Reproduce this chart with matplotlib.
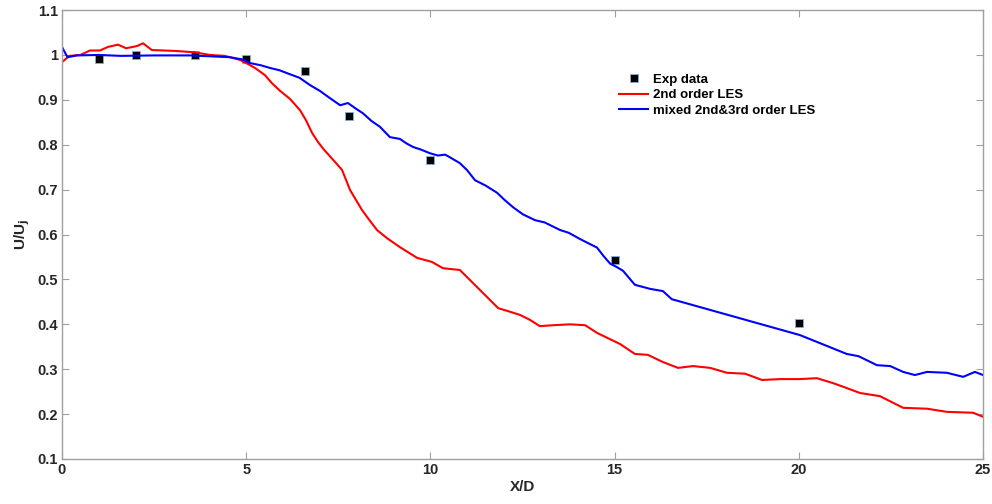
import numpy as np
import matplotlib
matplotlib.use("Agg")
import matplotlib.pyplot as plt

plt.rcParams['font.family'] = ['Liberation Sans', 'DejaVu Sans']
plt.rcParams['font.weight'] = 'bold'

# experimental centreline velocity
exp_x = [1.0, 2.0, 3.6, 5.0, 6.6, 7.8, 10.0, 15.0, 20.0]
exp_y = [0.99, 1.0, 1.0, 0.99, 0.964, 0.864, 0.767, 0.543, 0.403]

# 2nd order LES
les2_x = [0.0, 0.2, 0.5, 0.76, 1.03, 1.25, 1.52, 1.74, 2.04, 2.2, 2.44, 3.07, 3.6,
          4.02, 4.42, 4.83, 5.0, 5.24, 5.51, 5.7, 5.92, 6.19, 6.46, 6.62, 6.79,
          6.95, 7.1, 7.44, 7.6, 7.82, 8.14, 8.3, 8.55, 8.82, 9.17, 9.64, 10.04,
          10.34, 10.8, 11.35, 11.84, 12.16, 12.43, 12.7, 12.97, 13.33, 13.79,
          14.2, 14.52, 15.15, 15.55, 15.9, 16.31, 16.72, 17.13, 17.59, 18.05,
          18.54, 19.0, 19.49, 20.03, 20.49, 20.93, 21.3, 21.66, 22.2, 22.83,
          23.48, 24.02, 24.73, 25.0]
les2_y = [0.984, 0.998, 1.0, 1.01, 1.01, 1.018, 1.023, 1.015, 1.02, 1.026, 1.011,
          1.009, 1.006, 1.0, 0.998, 0.989, 0.982, 0.971, 0.955, 0.937, 0.92,
          0.902, 0.877, 0.855, 0.826, 0.806, 0.79, 0.759, 0.744, 0.699, 0.655,
          0.637, 0.61, 0.592, 0.572, 0.548, 0.539, 0.525, 0.521, 0.476, 0.436,
          0.428, 0.421, 0.41, 0.396, 0.398, 0.4, 0.398, 0.381, 0.356, 0.334,
          0.332, 0.316, 0.303, 0.307, 0.303, 0.292, 0.29, 0.276, 0.278, 0.278,
          0.28, 0.269, 0.258, 0.247, 0.24, 0.214, 0.212, 0.205, 0.203, 0.194]

# mixed 2nd & 3rd order LES
mix_x = [0.0, 0.05, 0.15, 0.4, 1.0, 1.6, 2.5, 3.5, 4.56, 4.9, 5.1, 5.4, 5.65,
         5.9, 6.19, 6.45, 6.73, 7.0, 7.27, 7.55, 7.76, 7.95, 8.17, 8.4, 8.63,
         8.9, 9.17, 9.35, 9.53, 9.75, 9.99, 10.2, 10.4, 10.53, 10.8, 11.0,
         11.21, 11.5, 11.81, 12.0, 12.24, 12.51, 12.84, 13.1, 13.52, 13.75,
         14.06, 14.3, 14.52, 14.7, 14.88, 15.05, 15.23, 15.55, 15.96, 16.31,
         16.55, 20.03, 21.3, 21.62, 22.12, 22.48, 22.83, 23.15, 23.48, 24.02,
         24.46, 24.78, 25.0]
mix_y = [1.018, 1.01, 0.995, 0.999, 1.0, 0.998, 0.999, 0.999, 0.995, 0.99,
         0.982, 0.977, 0.971, 0.966, 0.957, 0.949, 0.933, 0.92, 0.904, 0.888,
         0.893, 0.882, 0.87, 0.853, 0.84, 0.817, 0.813, 0.803, 0.795, 0.789,
         0.781, 0.776, 0.778, 0.772, 0.759, 0.743, 0.721, 0.709, 0.693, 0.678,
         0.661, 0.645, 0.632, 0.627, 0.61, 0.604, 0.59, 0.58, 0.571, 0.552,
         0.535, 0.528, 0.519, 0.488, 0.479, 0.474, 0.456, 0.376, 0.334, 0.329,
         0.309, 0.307, 0.294, 0.287, 0.294, 0.292, 0.283, 0.294, 0.287]

fig = plt.figure(figsize=(9.92, 5.04), dpi=100)
ax = fig.add_axes([0.0625, 0.0893, 0.9285, 0.8907])

ax.plot(exp_x, exp_y, 's', color='black', markersize=6,
        markeredgecolor='#7fb2d9', markeredgewidth=0.6, label='Exp data')
ax.plot(les2_x, les2_y, color='#ff0000', lw=1.5, label='2nd order LES')
ax.plot(mix_x, mix_y, color='#0000ff', lw=1.5, label='mixed 2nd&3rd order LES')

ax.set_xlim(0, 25)
ax.set_ylim(0.1, 1.1)
ax.set_xticks([0, 5, 10, 15, 20, 25])
ax.set_yticks(np.round(np.arange(0.1, 1.11, 0.1), 1))
ax.set_yticklabels(['0.1', '0.2', '0.3', '0.4', '0.5', '0.6', '0.7', '0.8', '0.9', '1', '1.1'])

for s in ax.spines.values():
    s.set_color('#a0a0a0')
    s.set_linewidth(1.0)
ax.tick_params(direction='in', top=True, right=True, length=5, color='#a0a0a0',
               labelsize=10.5, labelcolor='#262626', pad=3)
for lab in ax.get_xticklabels() + ax.get_yticklabels():
    lab.set_fontweight('bold')

ax.set_xlabel('X/D', fontsize=11, fontweight='bold', color='#262626', labelpad=2)
ax.set_ylabel('U/U$_\\mathbf{j}$', fontsize=11, fontweight='bold', color='#262626', labelpad=4)

ax.legend(loc='upper left', bbox_to_anchor=(0.592, 0.885), frameon=False,
          handlelength=2.2, handletextpad=0.4, labelspacing=0.25,
          prop={'weight': 'bold', 'size': 9.5})

fig.savefig('out.png', dpi=100)
